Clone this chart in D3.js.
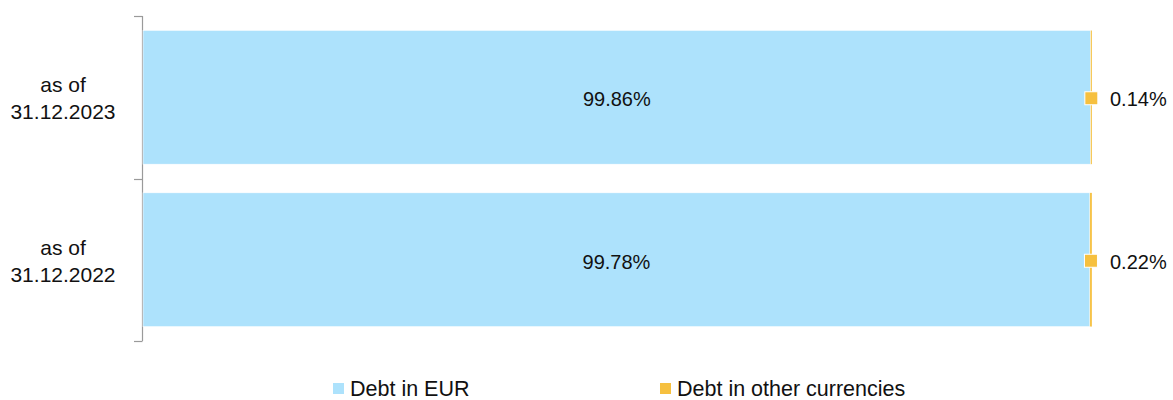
<!DOCTYPE html>
<html>
<head>
<meta charset="utf-8">
<script src="https://cdn.jsdelivr.net/npm/d3@7"></script>
<style>
  html, body { margin: 0; padding: 0; background: #fff; }
  svg { display: block; font-family: "Liberation Sans", Arial, sans-serif; }
</style>
</head>
<body>
<svg id="chart" width="1173" height="400"></svg>
<script>
const categories = [["as of", "31.12.2023"], ["as of", "31.12.2022"]];
const categoryKeys = ["2023", "2022"];
const seriesNames = ["Debt in EUR", "Debt in other currencies"];
const debtEUR = [99.86, 99.78];
const debtOther = [0.14, 0.22];
const labelsEUR = ["99.86%", "99.78%"];
const labelsOther = ["0.14%", "0.22%"];
const colors = ["#ADE2FC", "#F6C03F"];

const svg = d3.select("#chart");
const x = d3.scaleLinear().domain([0, 100]).range([143, 1092]);
const y = d3.scaleBand().domain(categoryKeys).range([16, 341]).paddingInner(0).paddingOuter(0);
const inset = y.bandwidth() * 0.088;
const barH = y.bandwidth() - 2 * inset;

// axis
const ax = svg.append("g").attr("stroke", "#9a9a9a").attr("stroke-width", 1.2);
ax.append("line").attr("x1", 142.5).attr("x2", 142.5).attr("y1", y.range()[0]).attr("y2", y.range()[1]);
const tickYs = categoryKeys.map(k => y(k)).concat([y.range()[1]]);
ax.selectAll("line.tick").data(tickYs).enter().append("line")
  .attr("class", "tick")
  .attr("x1", 134).attr("x2", 142.5)
  .attr("y1", d => Math.round(d) + 0.5).attr("y2", d => Math.round(d) + 0.5);

// category labels
categoryKeys.forEach((k, i) => {
  const cy = y(k) + y.bandwidth() / 2;
  const t = svg.append("text").attr("text-anchor", "middle").attr("font-size", 21).attr("fill", "#111");
  t.append("tspan").attr("x", 63).attr("y", cy - 5).text(categories[i][0]);
  t.append("tspan").attr("x", 63).attr("y", cy + 22).text(categories[i][1]);
});

// bars
const g = svg.append("g");
categoryKeys.forEach((k, i) => {
  const by = y(k) + inset;
  g.append("rect")
    .attr("x", x(0)).attr("y", by)
    .attr("width", x(debtEUR[i]) - x(0)).attr("height", barH)
    .attr("fill", colors[0]).attr("stroke", "#fff").attr("stroke-width", 0.6);
  g.append("rect")
    .attr("x", x(debtEUR[i])).attr("y", by)
    .attr("width", x(debtEUR[i] + debtOther[i]) - x(debtEUR[i])).attr("height", barH)
    .attr("fill", colors[1]).attr("stroke", "#fff").attr("stroke-width", 0.3);
  const cy = y(k) + y.bandwidth() / 2;
  g.append("text")
    .attr("x", (x(0) + x(debtEUR[i])) / 2).attr("y", cy + 9)
    .attr("text-anchor", "middle").attr("font-size", 20).attr("fill", "#111")
    .text(labelsEUR[i]);
  const mx = x(debtEUR[i] + debtOther[i] / 2);
  g.append("rect")
    .attr("x", mx - 6.5).attr("y", cy - 5.5).attr("width", 13).attr("height", 13)
    .attr("fill", colors[1]).attr("stroke", "#fff").attr("stroke-width", 1);
  g.append("text")
    .attr("x", 1110).attr("y", cy + 9)
    .attr("font-size", 20).attr("fill", "#111")
    .text(labelsOther[i]);
});

// legend
const legendX = [333, 660];
seriesNames.forEach((n, i) => {
  svg.append("rect").attr("x", legendX[i]).attr("y", 383).attr("width", 11).attr("height", 11).attr("fill", colors[i]);
  svg.append("text").attr("x", legendX[i] + 17).attr("y", 396).attr("font-size", 21.5).attr("fill", "#111").text(n);
});
</script>
</body>
</html>
